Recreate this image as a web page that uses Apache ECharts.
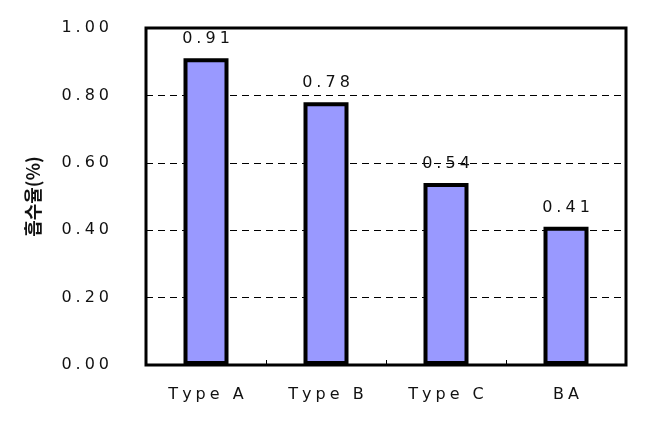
<!DOCTYPE html>
<html><head><meta charset="utf-8">
<script src="https://cdn.jsdelivr.net/npm/echarts@6/dist/echarts.min.js"></script>
<style>html,body{margin:0;padding:0;background:#fff}#c{width:647px;height:435px}</style>
</head><body><div id="c"></div>
<script>
const categories = ['Type A', 'Type B', 'Type C', 'BA'];
const values = [0.91, 0.78, 0.54, 0.41];
const yTicks = [0, 0.2, 0.4, 0.6, 0.8, 1.0];
const yName = '흡수율(%)';

const NUMSEP = '\u2005';
const TXTSEP = '\u2005';
function spaced(s, sep) { return String(s).split('').join(sep); }
const FONT = 'DejaVu Sans, sans-serif';

const chart = echarts.init(document.getElementById('c'));
chart.setOption({
  animation: false,
  backgroundColor: '#fff',
  grid: { left: 146, right: 21, top: 28, bottom: 70, show: true, borderColor: '#000', borderWidth: 3, backgroundColor: 'transparent' },
  xAxis: {
    type: 'category', data: categories,
    axisLine: { show: false },
    axisTick: { show: true, inside: true, length: 5, lineStyle: { color: '#000', width: 1 } },
    axisLabel: { margin: 22, fontSize: 16, color: '#111', fontFamily: FONT, formatter: v => spaced(v, TXTSEP) },
    z: 5
  },
  yAxis: {
    type: 'value', min: 0, max: 1, interval: 0.2,
    name: yName, nameLocation: 'middle', nameGap: 104,
    nameTextStyle: { fontSize: 18, fontWeight: 'bold', color: '#111', fontFamily: 'Noto Sans CJK KR, sans-serif' },
    axisLine: { show: false }, axisTick: { show: false },
    axisLabel: { margin: 37, fontSize: 16, color: '#111', fontFamily: FONT, formatter: v => spaced(v.toFixed(2), NUMSEP) },
    splitLine: { show: true, lineStyle: { color: '#000', width: 1, type: [7, 5] } }
  },
  series: [{
    type: 'bar', data: values, barWidth: 45,
    itemStyle: { color: '#9999FF', borderColor: '#000', borderWidth: 4 },
    label: { show: true, position: 'top', distance: 11, fontSize: 16, color: '#111', fontFamily: FONT,
      formatter: p => spaced(p.value.toFixed(2), NUMSEP) }
  }]
});
</script></body></html>
